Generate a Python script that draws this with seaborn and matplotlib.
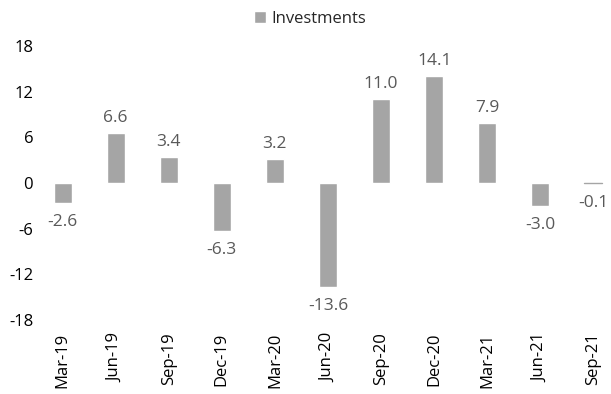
import matplotlib
matplotlib.use("Agg")
import matplotlib.pyplot as plt
import seaborn as sns
import pandas as pd

quarters = ["Mar-19", "Jun-19", "Sep-19", "Dec-19", "Mar-20", "Jun-20",
            "Sep-20", "Dec-20", "Mar-21", "Jun-21", "Sep-21"]
investments = [-2.6, 6.6, 3.4, -6.3, 3.2, -13.6, 11.0, 14.1, 7.9, -3.0, -0.1]
y_ticks = [-18, -12, -6, 0, 6, 12, 18]

sns.set_theme(style="white")
plt.rcParams["font.family"] = ["Open Sans", "DejaVu Sans"]

df = pd.DataFrame({"Quarter": quarters, "Investments": investments})

fig = plt.figure(figsize=(6.11, 3.94), dpi=100)
ax = fig.add_axes([36 / 611, 1 - 320 / 394, 584 / 611, 274 / 394])

bar_color = "#A5A5A5"
sns.barplot(data=df, x="Quarter", y="Investments", color=bar_color,
            width=0.34, saturation=1, ax=ax, label="Investments")

ax.set_xlim(-0.5, len(quarters) - 0.5)
ax.set_ylim(-18, 18)
ax.set_yticks(y_ticks)
ax.set_yticklabels([str(t) for t in y_ticks])
ax.set_xlabel("")
ax.set_ylabel("")
for s in ax.spines.values():
    s.set_visible(False)
ax.tick_params(axis="y", length=0, pad=2, labelsize=12, labelcolor="#000000")
ax.tick_params(axis="x", length=0, pad=9, labelsize=12, labelcolor="#000000")
plt.setp(ax.get_xticklabels(), rotation=90, ha="center", va="top")

# the near-zero bar still shows as a hairline at the baseline
ax.plot([len(quarters) - 1 - 0.17, len(quarters) - 1 + 0.17], [0, 0],
        color=bar_color, lw=1)

for i, v in enumerate(investments):
    if v >= 0:
        ax.annotate(f"{v:.1f}", (i, v), xytext=(0, 5), textcoords="offset points",
                    ha="center", va="bottom", fontsize=12.5, color="#595959")
    else:
        ax.annotate(f"{v:.1f}", (i, v), xytext=(0, -8), textcoords="offset points",
                    ha="center", va="top", fontsize=12.5, color="#595959")

leg = fig.legend(*ax.get_legend_handles_labels(), loc="center",
                 bbox_to_anchor=(310 / 611, 1 - 19 / 394), frameon=False,
                 fontsize=12, handlelength=0.7, handleheight=0.7,
                 handletextpad=0.3)
if ax.get_legend() is not None:
    ax.get_legend().remove()

fig.savefig("out.png", dpi=100)
